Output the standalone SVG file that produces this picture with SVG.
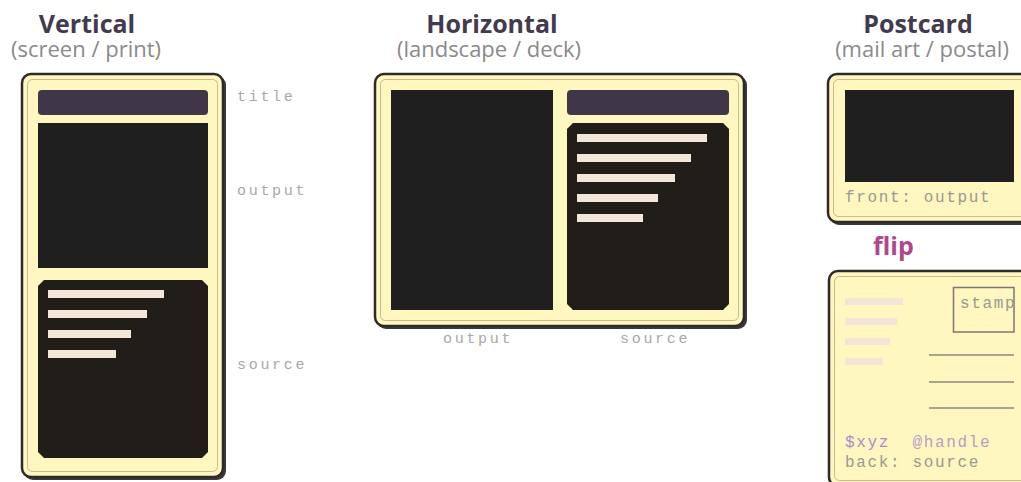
<svg xmlns="http://www.w3.org/2000/svg" width="1021" height="482" viewBox="0 0 1021 482">
<style>
.ttl{font-family:"Open Sans","Noto Sans",sans-serif;font-weight:700;font-size:25px;fill:#433a50;text-anchor:middle}
.sub{font-family:"Open Sans","Noto Sans",sans-serif;font-size:22px;fill:#8a8a8a;text-anchor:middle}
.lbl{font-family:"Liberation Mono",monospace;font-size:15px;letter-spacing:2.7px;fill:#a8a8a8}
.pc{font-family:"Liberation Mono",monospace;font-size:16px;letter-spacing:1.65px;fill:#9a9a90}
.pu{fill:#a58ec9}
.shadow{fill:#3a3a3a}
.card{fill:#fff6c0;stroke:#2b2b2b;stroke-width:2.5}
.inner{fill:none;stroke:#c8ba8c;stroke-width:1}
.bar{fill:#3f3648}
.out{fill:#1f1f1f}
.src{fill:#211d18}
.ln{fill:#f2e6d6}
.addr{stroke:#8a8a80;stroke-width:1.5}
.flip{font-family:"Open Sans","Noto Sans",sans-serif;font-weight:700;font-size:25px;fill:#b0478c}
</style>

<g id="vertical">
  <text class="ttl" x="87" y="33">Vertical</text>
  <text class="sub" x="86" y="57">(screen / print)</text>
  <rect class="shadow" x="24" y="76" width="202" height="404" rx="9"/>
  <rect class="card" x="22" y="74" width="201" height="403" rx="9"/>
  <rect class="inner" x="27.5" y="79.5" width="190" height="392" rx="5"/>
  <rect class="bar" x="38" y="90" width="170" height="25" rx="4"/>
  <rect class="out" x="38" y="123" width="170" height="145"/>
  <path class="src" d="M44 280 H202 L208 286 V452 L202 458 H44 L38 452 V286 Z"/>
  <rect class="ln" x="48" y="290" width="116" height="8"/>
  <rect class="ln" x="48" y="310" width="99" height="8"/>
  <rect class="ln" x="48" y="330" width="83" height="8"/>
  <rect class="ln" x="48" y="350" width="68" height="8"/>
  <text class="lbl" x="237" y="101">title</text>
  <text class="lbl" x="237" y="195">output</text>
  <text class="lbl" x="237" y="369">source</text>
</g>

<g id="horizontal">
  <text class="ttl" x="492" y="33">Horizontal</text>
  <text class="sub" x="489" y="57">(landscape / deck)</text>
  <rect class="shadow" x="377" y="76" width="370" height="253" rx="9"/>
  <rect class="card" x="375" y="74" width="369" height="252" rx="9"/>
  <rect class="inner" x="380.5" y="79.5" width="358" height="241" rx="5"/>
  <rect class="out" x="391" y="90" width="162" height="220"/>
  <rect class="bar" x="567" y="90" width="162" height="25" rx="4"/>
  <path class="src" d="M573 123 H723 L729 129 V304 L723 310 H573 L567 304 V129 Z"/>
  <rect class="ln" x="577" y="134" width="130" height="8"/>
  <rect class="ln" x="577" y="154" width="114" height="8"/>
  <rect class="ln" x="577" y="174" width="98" height="8"/>
  <rect class="ln" x="577" y="194" width="81" height="8"/>
  <rect class="ln" x="577" y="214" width="66" height="8"/>
  <text class="lbl" x="443" y="343">output</text>
  <text class="lbl" x="620" y="343">source</text>
</g>

<g id="postcard">
  <text class="ttl" x="918" y="33">Postcard</text>
  <text class="sub" x="922" y="57">(mail art / postal)</text>
  <text class="flip" x="873" y="255">flip</text>
</g>

<g id="postcard-front">
  <rect class="shadow" x="830" y="76" width="206" height="149" rx="9"/>
  <rect class="card" x="828" y="74" width="205" height="148" rx="9"/>
  <rect class="inner" x="833.5" y="79.5" width="194" height="137" rx="5"/>
  <rect class="out" x="845" y="90" width="169" height="92"/>
  <text class="pc" x="845" y="202">front: output</text>
</g>

<g id="postcard-back">
  <rect class="shadow" x="831" y="273" width="206" height="215" rx="9"/>
  <rect class="card" x="829" y="271" width="205" height="215" rx="9"/>
  <rect class="inner" x="834.5" y="276.5" width="194" height="204" rx="5"/>
  <rect class="ln" x="845" y="298" width="58" height="7"/>
  <rect class="ln" x="845" y="318" width="52" height="7"/>
  <rect class="ln" x="845" y="338" width="45" height="7"/>
  <rect class="ln" x="845" y="358" width="38" height="7"/>
  <rect x="953.5" y="287.5" width="60.5" height="44.5" fill="none" stroke="#7a7a72" stroke-width="1.5"/>
  <text class="pc" x="960" y="308">stamp</text>
  <line class="addr" x1="929" y1="355" x2="1014" y2="355"/>
  <line class="addr" x1="929" y1="382" x2="1014" y2="382"/>
  <line class="addr" x1="929" y1="408" x2="1014" y2="408"/>
  <text class="pc" x="845" y="447" xml:space="preserve"><tspan class="pu">$xyz</tspan>  <tspan class="pu" fill-opacity="0.85">@handle</tspan></text>
  <text class="pc" x="845" y="467">back: source</text>
</g>
</svg>
